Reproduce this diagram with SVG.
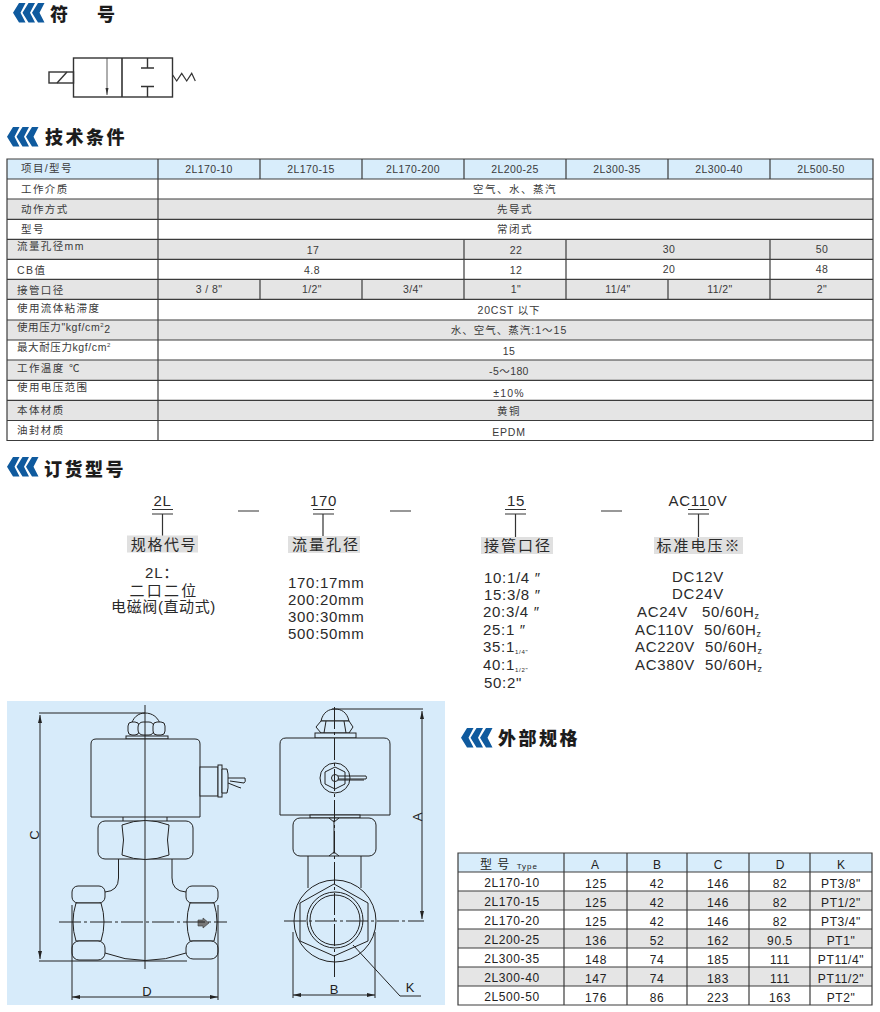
<svg xmlns="http://www.w3.org/2000/svg" xmlns:xlink="http://www.w3.org/1999/xlink" width="880" height="1012" viewBox="0 0 880 1012">
<style>
text{font-family:"Liberation Sans","Noto Sans CJK SC",sans-serif}
.h{font-family:"Noto Sans CJK SC",sans-serif;font-size:18px;font-weight:900;fill:#1c1c1c}
.t{font-size:10.5px;fill:#3a3a3a;text-anchor:middle;letter-spacing:.4px}
.tc{font-size:10.5px;fill:#3a3a3a;text-anchor:middle;letter-spacing:1.5px}
.l{font-size:10.5px;fill:#3a3a3a;letter-spacing:1.4px}
.s{font-size:12px;fill:#222;text-anchor:middle}
.o{font-size:15px;fill:#2a2a2a;letter-spacing:.7px}
.om{font-size:15px;fill:#2a2a2a;text-anchor:middle;letter-spacing:.7px}
.tg{fill:none;stroke:#3c3c3c;stroke-width:1.2}
.d{fill:none;stroke:#222;stroke-width:1}
.dd{fill:none;stroke:#222;stroke-width:1;stroke-dasharray:22 3 3 3}
.bar{fill:#e0e0e0}
.w{fill:#d7ebfa;stroke:#222;stroke-width:1}
.dim{font-size:13px;fill:#222;text-anchor:middle}
</style>
<defs>
<g id="chev"><path id="c1" d="M0 9.700L6 0H12.500L7.500 9.700L12.500 19.400H6Z" fill="#0f5a9e"/><use xlink:href="#c1" href="#c1" x="9.500"/><use xlink:href="#c1" href="#c1" x="19"/></g>
<marker id="a" viewBox="0 0 8 4" refX="8" refY="2" markerWidth="8" markerHeight="4" orient="auto-start-reverse" markerUnits="userSpaceOnUse"><path d="M0 0L8 2L0 4Z" fill="#222"/></marker>
</defs>
<rect width="880" height="1012" fill="#fff"/>

<g id="head-symbol"><use href="#chev" x="13" y="3"/><text class="h" x="50" y="21">符</text><text class="h" x="97" y="21">号</text></g>
<g id="symbol" fill="none" stroke="#333" stroke-width="1.4">
<rect x="73.500" y="58" width="99" height="39"/><line x1="122" y1="58" x2="122" y2="97" stroke-width="1.600"/>
<rect x="49" y="72" width="24.500" height="11"/><line x1="57" y1="83" x2="67" y2="72"/>
<line x1="107" y1="58" x2="107" y2="95" stroke-width=".8"/><path d="M105.500 88H108.500L107 95Z" fill="#333" stroke="none"/>
<path d="M147.500 58V68M141 68H154M141 86.500H154M147.500 86.500V97"/>
<path d="M172.700 75L176.700 81L181.700 73.300L186.700 81L191.700 73.300L195.300 81" stroke-width="1.200"/>
</g>

<g id="head-tech"><use href="#chev" x="7" y="127"/><text class="h" x="45" y="144" letter-spacing="2.500">技术条件</text></g>

<g id="spec-table">
<rect x="7" y="159" width="866" height="20" fill="#d8edfb"/>
<rect x="7" y="199" width="866" height="20" fill="#e5e5e5"/>
<rect x="7" y="239" width="866" height="20" fill="#e5e5e5"/>
<rect x="7" y="279" width="866" height="20" fill="#e5e5e5"/>
<rect x="7" y="320" width="866" height="20" fill="#e5e5e5"/>
<rect x="7" y="360" width="866" height="20" fill="#e5e5e5"/>
<rect x="7" y="400" width="866" height="20" fill="#e5e5e5"/>
<path class="tg" d="M7 159H873V440.500H7ZM7 179H873M7 199H873M7 219.300H873M7 239.300H873M7 259.300H873M7 279.300H873M7 299.300H873M7 320H873M7 340H873M7 360H873M7 380.300H873M7 400.300H873M7 420.500H873"/>
<path class="tg" d="M158 159V440.500M260 159V179M362 159V179M464 159V179M566 159V179M668 159V179M770 159V179M464 239.300V279.300M566 239.300V279.300M770 239.300V279.300M260 279.300V299.300M362 279.300V299.300M464 279.300V299.300M566 279.300V299.300M668 279.300V299.300M770 279.300V299.300"/>
<text class="l" x="21" y="172">项目/型号</text>
<text class="l" x="21" y="193">工作介质</text>
<text class="l" x="21" y="213">动作方式</text>
<text class="l" x="21" y="233">型号</text>
<text class="l" x="17" y="250">流量孔径mm</text>
<text class="l" x="17" y="274">CB值</text>
<text class="l" x="17" y="294">接管口径</text>
<text class="l" x="17" y="312">使用流体粘滞度</text>
<text class="l" x="17" y="331" style="letter-spacing:.6px">使用压力"kgf/cm<tspan font-size="6" dy="-4">2</tspan><tspan dy="6">2</tspan></text>
<text class="l" x="17" y="351" style="letter-spacing:.6px">最大耐压力kgf/cm<tspan font-size="6" dy="-4">2</tspan></text>
<text class="l" x="17" y="372">工作温度 ℃</text>
<text class="l" x="17" y="391">使用电压范围</text>
<text class="l" x="17" y="414">本体材质</text>
<text class="l" x="17" y="434">油封材质</text>
<text class="t" x="209" y="173">2L170-10</text><text class="t" x="311" y="173">2L170-15</text><text class="t" x="413" y="173">2L170-200</text><text class="t" x="515" y="173">2L200-25</text><text class="t" x="617" y="173">2L300-35</text><text class="t" x="719" y="173">2L300-40</text><text class="t" x="821" y="173">2L500-50</text>
<text class="tc" x="515" y="193">空气、水、蒸汽</text>
<text class="tc" x="515" y="213">先导式</text>
<text class="tc" x="515" y="233">常闭式</text>
<text class="t" x="313" y="254">17</text><text class="t" x="516" y="254">22</text><text class="t" x="669" y="253">30</text><text class="t" x="822" y="253">50</text>
<text class="t" x="312" y="274">4.8</text><text class="t" x="516" y="274">12</text><text class="t" x="669" y="273">20</text><text class="t" x="822" y="273">48</text>
<text class="t" x="209" y="293">3 / 8"</text><text class="t" x="312" y="293">1/2"</text><text class="t" x="413" y="293">3/4"</text><text class="t" x="516" y="293">1"</text><text class="t" x="618" y="293">11/4"</text><text class="t" x="720" y="293">11/2"</text><text class="t" x="822" y="293">2"</text>
<text class="t" x="509" y="314" style="letter-spacing:.8px">20CST 以下</text>
<text class="t" x="509" y="334" style="letter-spacing:1px">水、空气、蒸汽:1～15</text>
<text class="t" x="509" y="355">15</text>
<text class="t" x="509" y="375">-5～180</text>
<text class="t" x="509" y="397" style="letter-spacing:1.200px">±10%</text>
<text class="tc" x="509" y="415">黄铜</text>
<text class="t" x="509" y="436" style="letter-spacing:.8px">EPDM</text>
</g>

<g id="head-order"><use href="#chev" x="7" y="457"/><text class="h" x="44" y="476" letter-spacing="2.500">订货型号</text></g>

<g id="order-connectors" fill="none" stroke="#333" stroke-width="1.200">
<path d="M152 509.500H173M152 514H173M162.500 514V536"/>
<path d="M313 509.500H334M313 514H334M323 514V536"/>
<path d="M505 509.500H526M505 514H526M515.500 514V537"/>
<path d="M688 509.500H709M688 514H709M698.500 514V537"/>
<path d="M238 511H259M390 511H411M601 511H622"/>
</g>
<g id="order-model">
<text class="om" x="162.500" y="506">2L</text>
<rect class="bar" x="127" y="535.500" width="71" height="17"/>
<text class="om" x="164" y="550" style="letter-spacing:1.600px">规格代号</text>
<text class="om" x="162" y="578">2L：</text>
<text class="om" x="164" y="596" style="letter-spacing:2.200px">二口二位</text>
<text class="om" x="163.500" y="612" style="letter-spacing:.6px">电磁阀(直动式)</text>
</g>
<g id="order-bore">
<text class="om" x="323.500" y="506">170</text>
<rect class="bar" x="288" y="536" width="72" height="17"/>
<text class="om" x="326" y="550" style="letter-spacing:2px">流量孔径</text>
<text class="o" x="288" y="588">170:17mm</text>
<text class="o" x="288" y="605">200:20mm</text>
<text class="o" x="288" y="622">300:30mm</text>
<text class="o" x="288" y="639">500:50mm</text>
</g>
<g id="order-port">
<text class="om" x="516" y="506">15</text>
<rect class="bar" x="481" y="537" width="72" height="17"/>
<text class="om" x="518" y="551" style="letter-spacing:2px">接管口径</text>
<text class="o" x="484" y="583">10:1/4 ″</text>
<text class="o" x="484" y="600">15:3/8 ″</text>
<text class="o" x="483" y="617">20:3/4 ″</text>
<text class="o" x="483" y="635">25:1 ″</text>
<text class="o" x="483" y="652">35:1<tspan font-size="6" dy="2">1/4"</tspan></text>
<text class="o" x="483" y="670">40:1<tspan font-size="6" dy="2">1/2"</tspan></text>
<text class="o" x="484" y="688">50:2"</text>
</g>
<g id="order-voltage">
<text class="om" x="698" y="506">AC110V</text>
<rect class="bar" x="654" y="537" width="89" height="17"/>
<text class="om" x="699" y="551" style="letter-spacing:2px">标准电压※</text>
<text class="om" x="698" y="582">DC12V</text>
<text class="om" x="698" y="599">DC24V</text>
<text class="o" x="637" y="617">AC24V</text><text class="o" x="702" y="617">50/60H<tspan font-size="9" dy="2">z</tspan></text>
<text class="o" x="635" y="635">AC110V</text><text class="o" x="704" y="635">50/60H<tspan font-size="9" dy="2">z</tspan></text>
<text class="o" x="635" y="652">AC220V</text><text class="o" x="705" y="652">50/60H<tspan font-size="9" dy="2">z</tspan></text>
<text class="o" x="635" y="670">AC380V</text><text class="o" x="705" y="670">50/60H<tspan font-size="9" dy="2">z</tspan></text>
</g>

<rect id="panel" x="7" y="701" width="438" height="304" fill="#d7ebfa"/>

<g id="valve-front">
<path class="w" d="M131 727C132 717 139 713 145 713C152 713 159 717 161 727Z"/>
<rect class="w" x="128" y="722" width="11" height="13" rx="4"/>
<rect class="w" x="138" y="722" width="16" height="13" rx="5"/>
<rect class="w" x="153" y="722" width="12" height="13" rx="4"/>
<rect class="w" x="126" y="736" width="42" height="3"/>
<path class="w" d="M91 817V744Q91 739 96 739H195Q200 739 200 744V817Z"/>
<rect class="w" x="200" y="767" width="18" height="29"/>
<rect class="w" x="218" y="765" width="4" height="32"/>
<path class="w" d="M222 769H227L228 774V788L227 793H222Z"/>
<path class="d" d="M228 778L245 778Q246 782 244 783L230 781M228 783L238 787L241 788"/>
<path class="d" d="M123 817V821M167 817V821"/>
<rect class="w" x="98" y="821" width="95" height="38" rx="7"/>
<path class="w" d="M122 825Q145 816 169 825Q166 840 169 855Q145 864 122 855Q125 840 122 825Z"/>
<path class="d" d="M118.500 859V878Q118.500 891 105 892M172 859V878Q172 891 186 892"/>
<path class="d" d="M105 953Q145 968 186 953"/>
<rect class="w" x="72" y="886" width="33" height="17" rx="6"/>
<path class="w" d="M76 903H101Q107 922 101 941H76Q70 922 76 903Z"/>
<rect class="w" x="72" y="941" width="33" height="19" rx="7"/>
<rect class="w" x="186" y="886" width="32" height="17" rx="6"/>
<path class="w" d="M190 903H214Q220 922 214 941H190Q184 922 190 903Z"/>
<rect class="w" x="186" y="941" width="32" height="18" rx="7"/>
<path d="M198 920H203V918L209 923L203 928V926H198Z" fill="#777" stroke="#333" stroke-width=".6"/>
<path class="d" d="M145 705V969"/>
<path class="dd" d="M59 922H227"/>
<path class="d" d="M39 713H145M39 961H187M72 905V1000M218 905V1000"/>
<path class="d" d="M40 715V959" marker-start="url(#a)" marker-end="url(#a)"/>
<path class="d" d="M72 997H218" marker-start="url(#a)" marker-end="url(#a)"/>
<text class="dim" transform="translate(39 835) rotate(-90)">C</text>
<text class="dim" x="147" y="996">D</text>
</g>

<g id="valve-side">
<path class="w" d="M321 721C323 712 329 709 335 709C341 709 347 712 349 721Z"/>
<path class="w" d="M321 721H349L353 727L349 733H321L316 727Z"/>
<path class="d" d="M326 721L324 733M344 721L346 733"/>
<rect class="w" x="315" y="733" width="41" height="5"/>
<path class="w" d="M280 815V744Q280 738 286 738H384Q390 738 390 744V815Z"/>
<circle class="w" cx="335" cy="778" r="15"/>
<path class="w" d="M335 767L345 772V784L335 789L325 784V772Z"/>
<circle class="w" cx="335" cy="778" r="3.500"/>
<path class="d" d="M338 776H366Q367 778 366 779H338M338 780H364"/>
<rect class="w" x="310" y="815" width="50" height="3"/>
<rect class="w" x="293" y="818" width="83" height="38" rx="7"/>
<path class="d" d="M334 820V854M329 818L334 822L339 818M329 856L334 852L339 856"/>
<path class="d" d="M308 856V888M361 856V888"/>
<circle class="w" cx="335" cy="921" r="41"/>
<path class="w" d="M334 884L368 903V941L334 956L300 941V903Z"/>
<circle class="w" cx="335" cy="920" r="28"/>
<circle class="w" cx="335" cy="920" r="25"/>
<path class="dd" d="M334.500 707V980M284 921H424"/>
<path class="d" d="M332 709H423M293 932V998M375 932V998M353 945L400 996H421"/>
<path class="d" d="M422 711V919" marker-start="url(#a)" marker-end="url(#a)"/>
<path class="d" d="M293 995H375" marker-start="url(#a)" marker-end="url(#a)"/>
<text class="dim" transform="translate(422 817) rotate(-90)">A</text>
<text class="dim" x="334" y="994">B</text>
<text class="dim" x="410" y="992">K</text>
</g>

<g id="head-outer"><use href="#chev" x="461" y="728"/><text class="h" x="498" y="745" letter-spacing="2.500">外部规格</text></g>

<g id="size-table">
<rect x="458" y="853" width="414" height="19" fill="#d8edfb"/>
<rect x="458" y="891" width="414" height="19" fill="#e5e5e5"/>
<rect x="458" y="929" width="414" height="19" fill="#e5e5e5"/>
<rect x="458" y="967" width="414" height="19" fill="#e5e5e5"/>
<path class="tg" d="M458 853H872V1005H458ZM458 872H872M458 891H872M458 910H872M458 929H872M458 948H872M458 967H872M458 986H872M564 853V1005M627 853V1005M687 853V1005M749 853V1005M810 853V1005"/>
<text class="s" x="480" y="869" style="text-anchor:start;letter-spacing:1px">型 号 <tspan font-size="8" dx="2">Type</tspan></text>
<text class="s" x="595" y="869">A</text><text class="s" x="657" y="869">B</text><text class="s" x="718" y="869">C</text><text class="s" x="780" y="869">D</text><text class="s" x="841" y="869">K</text>
<g style="letter-spacing:.6px">
<text class="s" x="512" y="887">2L170-10</text><text class="s" x="596" y="888">125</text><text class="s" x="657" y="888">42</text><text class="s" x="718" y="888">146</text><text class="s" x="780" y="888">82</text><text class="s" x="841" y="888">PT3/8"</text>
<text class="s" x="512" y="906">2L170-15</text><text class="s" x="596" y="907">125</text><text class="s" x="657" y="907">42</text><text class="s" x="718" y="907">146</text><text class="s" x="780" y="907">82</text><text class="s" x="841" y="907">PT1/2"</text>
<text class="s" x="512" y="925">2L170-20</text><text class="s" x="596" y="926">125</text><text class="s" x="657" y="926">42</text><text class="s" x="718" y="926">146</text><text class="s" x="780" y="926">82</text><text class="s" x="841" y="926">PT3/4"</text>
<text class="s" x="512" y="944">2L200-25</text><text class="s" x="596" y="945">136</text><text class="s" x="657" y="945">52</text><text class="s" x="718" y="945">162</text><text class="s" x="780" y="945">90.5</text><text class="s" x="841" y="945">PT1"</text>
<text class="s" x="512" y="963">2L300-35</text><text class="s" x="596" y="964">148</text><text class="s" x="657" y="964">74</text><text class="s" x="718" y="964">185</text><text class="s" x="780" y="964">111</text><text class="s" x="841" y="964">PT11/4"</text>
<text class="s" x="512" y="982">2L300-40</text><text class="s" x="596" y="983">147</text><text class="s" x="657" y="983">74</text><text class="s" x="718" y="983">183</text><text class="s" x="780" y="983">111</text><text class="s" x="841" y="983">PT11/2"</text>
<text class="s" x="512" y="1001">2L500-50</text><text class="s" x="596" y="1002">176</text><text class="s" x="657" y="1002">86</text><text class="s" x="718" y="1002">223</text><text class="s" x="780" y="1002">163</text><text class="s" x="841" y="1002">PT2"</text>
</g>
</g>
</svg>
